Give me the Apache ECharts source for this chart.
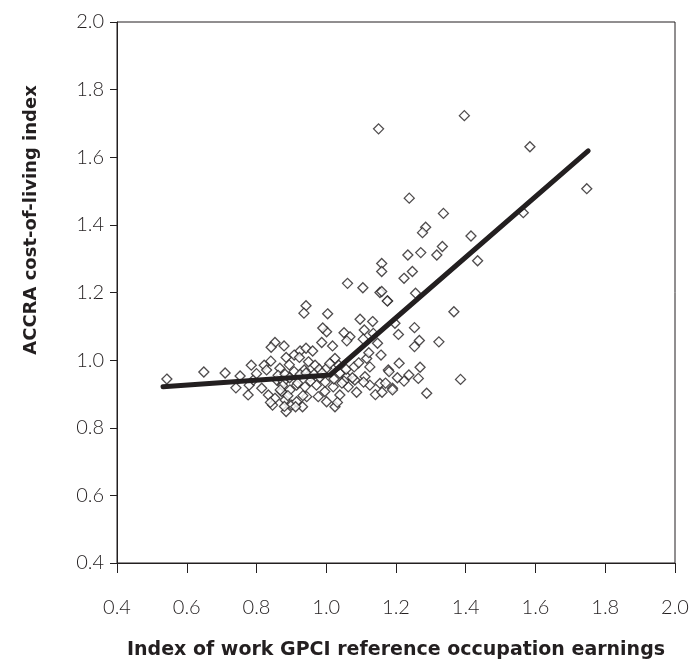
<!DOCTYPE html>
<html>
<head>
<meta charset="utf-8">
<script src="https://cdn.jsdelivr.net/npm/echarts@6/dist/echarts.min.js"></script>
<style>
  html, body { margin: 0; padding: 0; background: #ffffff; }
  #chart { width: 699px; height: 660px; }
</style>
</head>
<body>
<div id="chart"></div>
<script>
// Axis ranges and tick labels
const xTicks = [0.4, 0.6, 0.8, 1.0, 1.2, 1.4, 1.6, 1.8, 2.0];
const yTicks = [0.4, 0.6, 0.8, 1.0, 1.2, 1.4, 1.6, 1.8, 2.0];

// Areas: work GPCI earnings index (x) and ACCRA cost-of-living index (y)
const gpciIndex = [
  0.543, 0.649, 0.710, 0.753, 0.741, 0.776, 0.779, 0.791, 0.815, 0.834,
  0.853, 0.846, 0.858, 0.877, 0.896, 0.872, 0.915, 0.939, 0.882, 0.901,
  0.915, 0.932, 0.885, 0.972, 0.977, 0.996, 1.020, 1.001, 1.025, 1.039,
  1.063, 1.082, 1.111, 1.125, 1.154, 1.178, 1.190, 1.058, 1.039, 0.953,
  0.982, 0.853, 0.879, 0.842, 0.925, 0.942, 0.961, 0.908, 0.885, 0.923,
  1.025, 0.949, 0.968, 0.841, 0.822, 0.829, 0.867, 0.894, 0.908, 0.937,
  0.980, 1.001, 1.057, 1.080, 1.116, 1.125, 0.942, 0.936, 1.004, 1.097,
  1.133, 1.109, 1.001, 1.051, 1.068, 1.059, 1.135, 0.987, 1.018, 1.106,
  1.147, 1.157, 1.061, 1.105, 1.154, 1.176, 1.159, 1.159, 1.159, 1.175,
  1.256, 1.366, 1.197, 1.207, 1.253, 1.267, 1.253, 1.323, 1.209, 1.180,
  1.269, 1.237, 1.223, 1.264, 1.190, 1.288, 1.385, 1.238, 1.336, 1.285,
  1.276, 1.415, 1.333, 1.317, 1.271, 1.234, 1.434, 1.247, 1.223, 1.565,
  1.396, 1.584, 1.747, 1.150, 0.862, 0.882, 0.925, 0.942, 0.965, 0.988,
  0.875, 0.890, 0.840, 0.880, 0.912, 0.944, 0.918, 0.933, 0.997, 1.022,
  1.075, 1.107, 1.141, 1.160, 1.204, 1.170, 1.036, 1.051, 1.087, 1.032,
  1.093, 1.122, 0.800, 0.785, 0.895, 0.955, 1.010, 1.045, 0.990, 0.868
];
const colIndex = [
  0.944, 0.965, 0.962, 0.953, 0.918, 0.897, 0.926, 0.941, 0.917, 0.897,
  0.887, 0.867, 0.941, 0.936, 0.912, 0.907, 0.926, 0.921, 0.882, 0.867,
  0.877, 0.862, 0.848, 0.926, 0.892, 0.907, 0.921, 0.877, 0.862, 0.897,
  0.921, 0.941, 0.951, 0.926, 0.931, 0.971, 0.917, 0.951, 0.961, 0.951,
  0.949, 1.052, 1.042, 1.038, 1.027, 1.035, 1.027, 1.015, 1.008, 1.008,
  1.005, 0.995, 0.985, 0.997, 0.985, 0.971, 0.976, 0.986, 0.966, 0.971,
  0.973, 0.976, 0.973, 0.980, 1.005, 0.980, 1.161, 1.139, 1.137, 1.121,
  1.114, 1.089, 1.084, 1.081, 1.069, 1.057, 1.079, 1.052, 1.042, 1.062,
  1.050, 1.015, 1.227, 1.214, 1.200, 1.175, 1.286, 1.262, 1.203, 1.175,
  1.198, 1.143, 1.109, 1.076, 1.096, 1.058, 1.040, 1.054, 0.991, 0.966,
  0.979, 0.956, 0.938, 0.946, 0.912, 0.902, 0.943, 1.479, 1.434, 1.393,
  1.377, 1.367, 1.336, 1.311, 1.318, 1.311, 1.294, 1.262, 1.242, 1.436,
  1.723, 1.631, 1.507, 1.684, 0.955, 0.958, 0.958, 0.962, 0.958, 0.962,
  0.925, 0.895, 0.875, 0.863, 0.862, 0.892, 0.932, 0.895, 0.935, 0.944,
  0.948, 0.935, 0.898, 0.905, 0.948, 0.932, 0.985, 0.938, 0.905, 0.875,
  0.992, 1.022, 0.960, 0.985, 0.948, 0.938, 0.990, 0.932, 1.095, 0.912
];

// Fitted piecewise trend: start, break point, end
const trendX = [0.532, 1.011, 1.751];
const trendY = [0.921, 0.956, 1.619];

const ink = '#231f20';
const scatterData = gpciIndex.map((x, i) => [x, colIndex[i]]);
const trendData = trendX.map((x, i) => [x, trendY[i]]);
const fmt = v => Number(v).toFixed(1);

const chart = echarts.init(document.getElementById('chart'), null, { renderer: 'canvas' });
chart.setOption({
  animation: false,
  backgroundColor: '#ffffff',
  grid: {
    left: 117, right: 24, top: 22, bottom: 97,
    outerBoundsMode: 'none',
    containLabel: false,
    show: true, borderColor: ink, borderWidth: 1, backgroundColor: 'transparent'
  },
  xAxis: {
    type: 'value',
    min: xTicks[0], max: xTicks[xTicks.length - 1], interval: 0.2,
    name: 'Index of work GPCI reference occupation earnings',
    nameLocation: 'middle', nameGap: 78,
    nameTextStyle: { fontFamily: 'DejaVu Sans', fontWeight: 'bold', fontSize: 19, color: ink },
    axisLine: { show: true, onZero: false, lineStyle: { color: ink, width: 1 } },
    axisTick: { show: true, inside: false, length: 10, lineStyle: { color: ink } },
    axisLabel: { margin: 35, fontFamily: 'Lato', fontWeight: 300, fontSize: 20, color: ink, formatter: fmt },
    splitLine: { show: false }
  },
  yAxis: {
    type: 'value',
    min: yTicks[0], max: yTicks[yTicks.length - 1], interval: 0.2,
    axisLine: { show: true, onZero: false, lineStyle: { color: ink, width: 1 } },
    axisTick: { show: true, inside: false, length: 7, lineStyle: { color: ink } },
    axisLabel: { margin: 13, fontFamily: 'Lato', fontWeight: 300, fontSize: 20, color: ink, formatter: fmt },
    splitLine: { show: false }
  },
  graphic: [{
    type: 'text',
    x: 31, y: 220,
    rotation: Math.PI / 2,
    style: {
      text: 'ACCRA cost-of-living index',
      font: 'bold 18px "DejaVu Sans"',
      fill: ink,
      align: 'center',
      verticalAlign: 'middle'
    }
  }],
  series: [
    {
      type: 'scatter',
      data: scatterData,
      symbol: 'diamond',
      symbolSize: [10, 10],
      itemStyle: { color: '#ffffff', borderColor: ink, borderWidth: 1.3 },
      z: 2
    },
    {
      type: 'line',
      data: trendData,
      symbol: 'none',
      lineStyle: { color: ink, width: 5, cap: 'round', join: 'round' },
      z: 3
    }
  ]
});
</script>
</body>
</html>
